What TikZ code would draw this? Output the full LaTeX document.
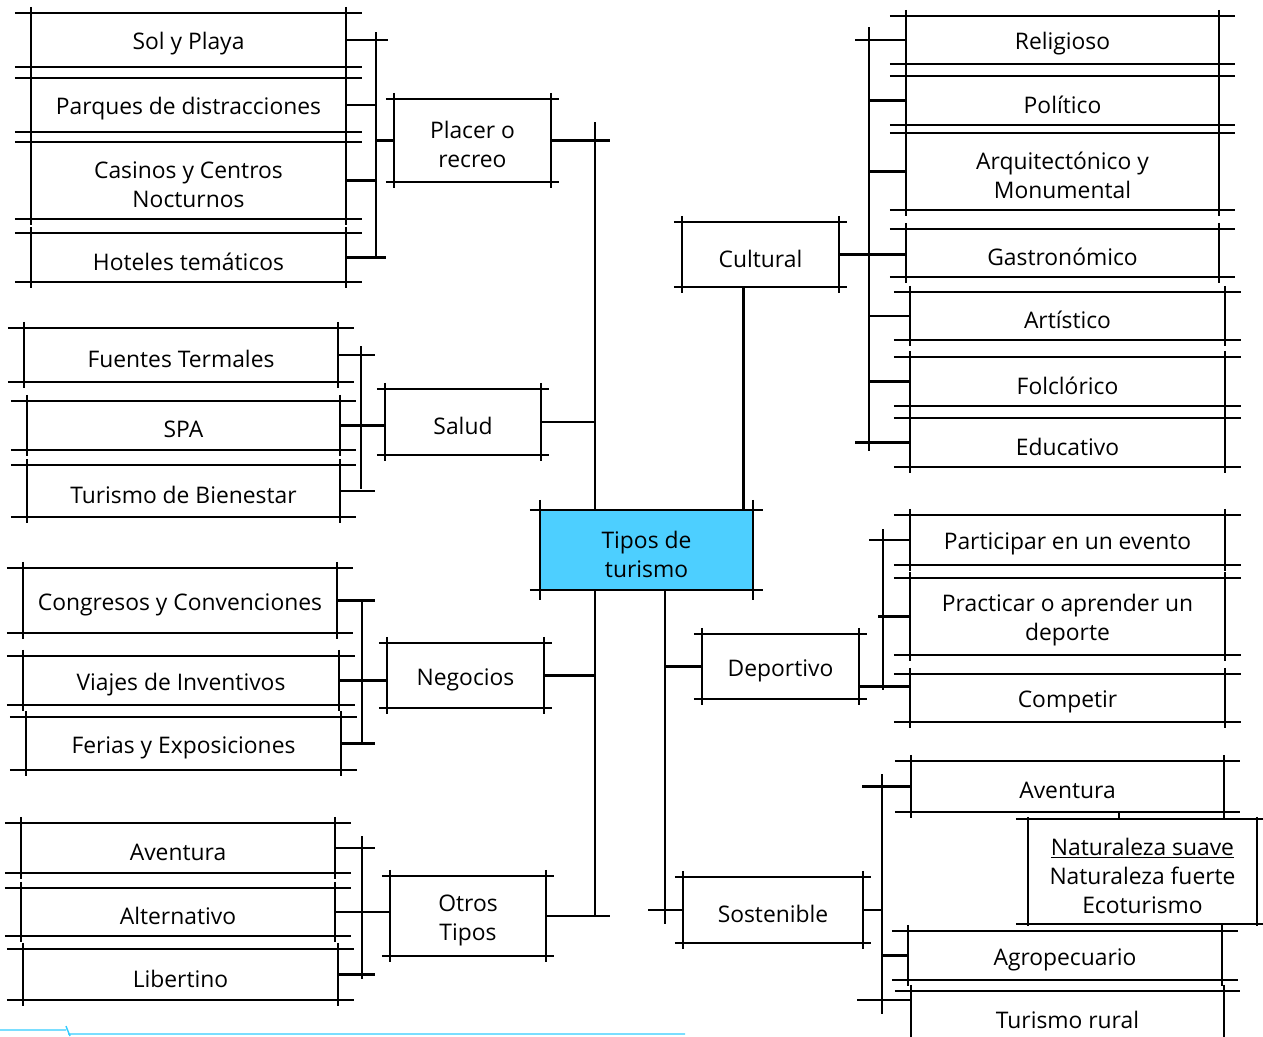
\documentclass[tikz,border=0pt]{standalone}
\usepackage{fontspec}
\setmainfont{Open Sans}
\definecolor{tipocyan}{RGB}{77,207,255}
\definecolor{linecyan}{RGB}{51,204,255}
\tikzset{
	boxtxt/.style={inner sep=0pt, align=center, font=\fontsize{13}{16.5}\selectfont},
	frame/.style={inner sep=0pt},
}
% box with overshooting edges: [opts]{ox}{oy}{name}{x1}{y1}{x2}{y2}{text}
\newcommand{\skbox}[9][]{%
	\node[frame, minimum width={(#7-#5)*0.02cm}, minimum height={(#8-#6)*0.02cm}, #1] (#4) at ({(#5+#7)/2},{(#6+#8)/2}) {};
	\node[boxtxt, yshift=-0.08cm] (#4-t) at (#4.center) {#9};
	\draw ([xshift=-#2*0.02cm]#4.north west) -- ([xshift=#2*0.02cm]#4.north east);
	\draw ([xshift=-#2*0.02cm]#4.south west) -- ([xshift=#2*0.02cm]#4.south east);
	\draw ([yshift=#3*0.02cm]#4.north west) -- ([yshift=-#3*0.02cm]#4.south west);
	\draw ([yshift=#3*0.02cm]#4.north east) -- ([yshift=-#3*0.02cm]#4.south east);
}
\newcommand{\leafbox}[6]{\skbox{16}{6}{#1}{#2}{#3}{#4}{#5}{#6}}
\newcommand{\midbox}[6]{\skbox{8}{6}{#1}{#2}{#3}{#4}{#5}{#6}}
\begin{document}
\begin{tikzpicture}[x=0.02cm, y=-0.02cm, line width=1.2pt]
	\useasboundingbox (0,0) rectangle (1263,1036);

	% centre
	\skbox[fill=tipocyan]{10}{10}{tipos}{541}{511}{752}{589}{Tipos de\\turismo}
	\coordinate (ltop) at (595,122);
	\coordinate (lbot) at (595,917);
	\coordinate (rbot) at (665,924);
	\draw (ltop) -- (ltop |- tipos.north);
	\draw (tipos.south -| lbot) -- (lbot);
	\draw (tipos.south -| rbot) -- (rbot);

	% placer o recreo
	\leafbox{sol}{32}{14}{345}{66}{Sol y Playa}
	\leafbox{parq}{32}{79}{345}{131}{Parques de distracciones}
	\leafbox{casi}{32}{143}{345}{218}{Casinos y Centros\\Nocturnos}
	\leafbox{hote}{32}{234}{345}{281}{Hoteles temáticos}
	\midbox{placer}{395}{100}{550}{181}{Placer o\\recreo}
	\coordinate (pt) at (376,32);
	\coordinate (pb) at (376,258);
	\draw (pt) -- (pb);
	\draw (sol.east) -- ([xshift=0.24cm]sol.east -| pt);
	\draw (parq.east) -- (parq.east -| pt);
	\draw (casi.east) -- (casi.east -| pt);
	\draw (hote.east) -- ([xshift=0.2cm]hote.east -| pt);
	\draw (placer.west) -- (placer.west -| pt);
	\draw (placer.east) -- ([xshift=0.3cm]placer.east -| ltop);

	% salud
	\leafbox{fuen}{25}{329}{337}{381}{Fuentes Termales}
	\leafbox{spa}{28}{402}{339}{449}{SPA}
	\leafbox{bien}{28}{466}{339}{516}{Turismo de Bienestar}
	\midbox{salud}{386}{390}{540}{454}{Salud}
	\coordinate (st) at (361,346);
	\coordinate (sb) at (361,489);
	\draw (st) -- (sb);
	\draw (fuen.east) -- ([xshift=0.28cm]fuen.east -| st);
	\draw (spa.east) -- (spa.east -| salud.west);
	\draw (bien.east) -- ([xshift=0.28cm]bien.east -| st);
	\draw (salud.east) -- (salud.east -| ltop);

	% negocios
	\leafbox{cong}{24}{569}{336}{632}{Congresos y Convenciones}
	\leafbox{viaj}{24}{657}{338}{704}{Viajes de Inventivos}
	\leafbox{feri}{27}{718}{340}{769}{Ferias y Exposiciones}
	\midbox{nego}{388}{644}{543}{707}{Negocios}
	\coordinate (nt) at (362,602);
	\coordinate (nb) at (362,745);
	\draw (nt) -- (nb);
	\draw (cong.east) -- ([xshift=0.26cm]cong.east -| nt);
	\draw (viaj.east) -- (viaj.east -| nego.west);
	\draw (feri.east) -- ([xshift=0.26cm]feri.east -| nt);
	\draw (nego.east) -- (nego.east -| ltop);

	% otros tipos
	\leafbox{aven}{22}{824}{334}{872}{Aventura}
	\leafbox{alte}{22}{889}{334}{935}{Alternativo}
	\leafbox{libe}{24}{950}{337}{999}{Libertino}
	\midbox{otros}{391}{877}{545}{955}{Otros\\Tipos}
	\coordinate (ot) at (362,836);
	\coordinate (ob) at (362,979);
	\draw (ot) -- (ob);
	\draw (aven.east) -- ([xshift=0.26cm]aven.east -| ot);
	\draw (alte.east) -- (alte.east -| otros.west);
	\draw (libe.east) -- ([xshift=0.26cm]libe.east -| ot);
	\draw (otros.east) -- ([xshift=0.3cm]otros.east -| ltop);

	% cultural
	\midbox{cult}{683}{223}{838}{286}{Cultural}
	\leafbox{reli}{907}{17}{1218}{63}{Religioso}
	\leafbox{poli}{907}{77}{1218}{124}{Político}
	\leafbox{arqu}{907}{134}{1218}{209}{Arquitectónico y\\Monumental}
	\leafbox{gast}{907}{230}{1218}{276}{Gastronómico}
	\leafbox{arti}{911}{293}{1224}{339}{Artístico}
	\leafbox{folc}{911}{358}{1224}{405}{Folclórico}
	\leafbox{educ}{911}{419}{1224}{466}{Educativo}
	\coordinate (ct) at (869,27);
	\coordinate (cb) at (869,451);
	\draw (ct) -- (cb);
	\draw ([xshift=-0.28cm]reli.west -| ct) -- (reli.west);
	\draw (poli.west -| ct) -- (poli.west);
	\draw (arqu.west -| ct) -- (arqu.west);
	\draw (cult.east) -- (cult.east -| gast.west);
	\draw (arti.west -| ct) -- (arti.west);
	\draw (folc.west -| ct) -- (folc.west);
	\draw ([xshift=-0.28cm]educ.west -| ct) -- (educ.west);
	\draw ([xshift=-0.34cm]cult.south) -- ([xshift=-0.34cm]cult.south |- tipos.north);

	% deportivo
	\midbox{depo}{703}{635}{858}{698}{Deportivo}
	\leafbox{part}{911}{516}{1224}{564}{Participar en un evento}
	\leafbox{prac}{911}{579}{1224}{654}{Practicar o aprender un\\deporte}
	\leafbox{comp}{911}{675}{1224}{721}{Competir}
	\coordinate (dt) at (883,529);
	\coordinate (db) at (883,690);
	\draw (dt) -- (db);
	\draw ([xshift=-0.28cm]part.west -| dt) -- (part.west);
	\draw ([xshift=-0.1cm]prac.west -| dt) -- (prac.west);
	\draw ([yshift=-0.4cm]depo.east) -- ([yshift=-0.4cm]depo.east -| comp.west);
	\draw (depo.west -| rbot) -- (depo.west);

	% sostenible
	\midbox{sost}{684}{878}{862}{942}{Sostenible}
	\leafbox{avsu}{912}{762}{1223}{811}{Aventura}
	\skbox{12}{2}{natu}{1029}{820}{1256}{923}{\underline{Naturaleza suave}\\Naturaleza fuerte\\Ecoturismo}
	\leafbox{agro}{909}{932}{1221}{979}{Agropecuario}
	\leafbox{rural}{912}{992}{1223}{1040}{Turismo rural}
	\coordinate (sst) at (882,774);
	\coordinate (ssb) at (882,1014);
	\draw (sst) -- (ssb);
	\draw ([xshift=-0.4cm]avsu.west -| sst) -- (avsu.west);
	\draw (sost.east) -- (sost.east -| sst);
	\draw (agro.west -| sst) -- (agro.west);
	\draw ([xshift=-0.5cm,yshift=0.32cm]rural.west -| sst) -- ([yshift=0.32cm]rural.west);
	\draw ([xshift=-0.34cm]sost.west -| rbot) -- (sost.west);
	\draw ([xshift=-0.47cm]natu.north) -- ([xshift=-0.47cm]natu.north |- avsu.south);

	% cyan edge at the bottom
	\draw[linecyan, line width=0.8pt] (0,1030) -- (66,1030) (66,1026) -- (70,1036) (68,1034) -- (685,1034);
\end{tikzpicture}
\end{document}
